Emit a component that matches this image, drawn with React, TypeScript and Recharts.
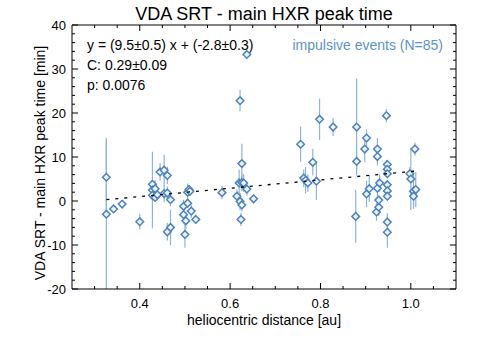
import { ScatterChart, Scatter, XAxis, YAxis, ErrorBar, Customized } from "recharts";

// heliocentric distance [au], delay [min] and its error
const distance = [
  0.326, 0.326, 0.342, 0.361, 0.4, 0.428, 0.428, 0.434, 0.428, 0.434,
  0.439, 0.445, 0.454, 0.461, 0.454, 0.461, 0.468, 0.461, 0.468, 0.497,
  0.506, 0.497, 0.502, 0.514, 0.524, 0.5, 0.506, 0.509, 0.511, 0.582,
  0.615, 0.62, 0.626, 0.63, 0.626, 0.622, 0.626, 0.637, 0.624, 0.652,
  0.637, 0.622, 0.756, 0.763, 0.767, 0.772, 0.791, 0.783, 0.798, 0.828,
  0.88, 0.88, 0.878, 0.898, 0.902, 0.902, 0.908, 0.926, 0.926, 0.926,
  0.931, 0.924, 0.929, 0.929, 0.946, 0.948, 0.948, 0.948, 0.948, 0.948,
  0.948, 0.948, 0.948, 0.998, 1.0, 1.006, 1.006, 1.011, 1.009,
];
const delay = [
  5.4, -3.0, -1.8, -0.7, -4.7, 3.8, 2.5, 2.8, 1.3, 0.8,
  1.4, 6.6, 7.0, 5.8, 1.7, 1.8, 0.3, -7.0, -6.0, -1.2,
  -0.5, -3.1, -4.5, -2.3, -4.2, -7.6, 2.0, 2.6, 2.2, 1.9,
  1.1, 4.1, 4.2, 4.1, 8.5, -0.1, -0.9, 2.7, -4.2, 0.5,
  33.3, 22.8, 12.9, 5.2, 4.7, 4.1, 4.5, 8.8, 18.6, 16.8,
  16.8, 9.0, -3.5, 11.8, 14.3, 1.6, 2.8, 11.8, 10.1, 2.9,
  4.1, -2.5, -1.4, 0.2, 19.4, 8.3, 7.2, 6.2, 3.7, 2.3,
  1.1, -4.8, -7.1, 6.2, 5.0, 2.2, 1.1, 2.6, 11.8,
];
const delayErr = [
  9, 17, 0.8, 0.8, 1.8, 1.5, 8.7, 2, 1, 1,
  1, 2, 3.5, 2, 2, 1.5, 1.5, 2, 4, 1.5,
  1, 2, 2, 1.5, 1, 3, 2, 1, 1, 1.5,
  1.5, 3, 2, 2, 4.5, 2, 1.5, 1.5, 1.5, 1,
  0.5, 2.4, 4, 2, 3, 2, 4.3, 3, 4.7, 2,
  11, 2, 6, 3, 2, 3, 3, 2.5, 2, 2,
  2, 2, 2, 1, 1.5, 1, 1, 1, 1, 1,
  1, 2, 3.5, 1.5, 7, 4, 2, 4, 1.5,
];

// end points of the linear fit drawn in the figure
const fitX = [0.326, 1.011];
const fitY = [0.3, 6.8];

const xMajor = [0.4, 0.6, 0.8, 1.0];
const xMinor = [0.3, 0.35, 0.45, 0.5, 0.55, 0.65, 0.7, 0.75, 0.85, 0.9, 0.95, 1.05];
const yMajor = [-20, -10, 0, 10, 20, 30, 40];
const yMinor = [
  -18, -16, -14, -12, -8, -6, -4, -2, 2, 4, 6, 8, 12, 14, 16, 18,
  22, 24, 26, 28, 32, 34, 36, 38,
];

const points = distance.map((x, i) => ({ x, y: delay[i], err: delayErr[i] }));
const fitLine = fitX.map((x, i) => ({ x, y: fitY[i] }));

const FONT = "'Liberation Sans', Arial, sans-serif";
const BLUE = "#4a82c2";
const W = 478;
const H = 341;

const isMajor = (list: number[], v: number) => list.some((m) => Math.abs(m - v) < 1e-9);

function makeTick(side: "bottom" | "top" | "left" | "right", majors: number[]) {
  return (props: any) => {
    const { x, y, payload } = props;
    const v = payload.value;
    const major = isMajor(majors, v);
    const len = major ? 6 : 3;
    let line;
    if (side === "bottom") line = <line x1={x} y1={y} x2={x} y2={y - len} stroke="#000" />;
    else if (side === "top") line = <line x1={x} y1={y} x2={x} y2={y + len} stroke="#000" />;
    else if (side === "left") line = <line x1={x} y1={y} x2={x + len} y2={y} stroke="#000" />;
    else line = <line x1={x} y1={y} x2={x - len} y2={y} stroke="#000" />;
    let label = null;
    if (major && side === "bottom") {
      label = (
        <text x={x} y={y + 19} textAnchor="middle" fontSize={13} fontFamily={FONT} fill="#000">
          {v.toFixed(1)}
        </text>
      );
    } else if (major && side === "left") {
      label = (
        <text x={x - 6} y={y + 4.5} textAnchor="end" fontSize={13} fontFamily={FONT} fill="#000">
          {String(v)}
        </text>
      );
    }
    return (
      <g>
        {line}
        {label}
      </g>
    );
  };
}

const Diamond = (props: any) => {
  const { cx, cy } = props;
  const r = 3.8;
  return (
    <polygon
      points={`${cx},${cy - r} ${cx + r},${cy} ${cx},${cy + r} ${cx - r},${cy}`}
      fill="#eef4fb"
      stroke={BLUE}
      strokeWidth={1.5}
    />
  );
};

const Texts = () => (
  <g fontFamily={FONT}>
    <text x={264} y={20} textAnchor="middle" fontSize={18} fill="#000">
      VDA SRT - main HXR peak time
    </text>
    <text x={87} y={50} fontSize={14} fill="#000">y = (9.5±0.5) x + (-2.8±0.3)</text>
    <text x={87} y={70} fontSize={14} fill="#000">C: 0.29±0.09</text>
    <text x={87} y={90} fontSize={14} fill="#000">p: 0.0076</text>
    <text x={443} y={50} textAnchor="end" fontSize={14} fill="#5b93cc">
      impulsive events (N=85)
    </text>
    <text x={264} y={325} textAnchor="middle" fontSize={14} fill="#000">
      heliocentric distance [au]
    </text>
    <text
      x={45}
      y={163}
      textAnchor="middle"
      fontSize={14}
      fill="#000"
      transform="rotate(-90 45 163)"
    >
      VDA SRT - main HXR peak time [min]
    </text>
  </g>
);

export default function App() {
  const xTicks = [...xMinor, ...xMajor].sort((a, b) => a - b);
  const yTicks = [...yMinor, ...yMajor].sort((a, b) => a - b);
  return (
    <div style={{ position: "absolute", left: 0, top: 0, width: W, height: H, background: "#fff" }}>
      <ScatterChart width={W} height={H} margin={{ top: 24, right: 21, bottom: 22, left: 32 }}>
        <XAxis
          xAxisId="b"
          dataKey="x"
          type="number"
          domain={[0.25, 1.1]}
          ticks={xTicks}
          interval={0}
          height={30}
          tickSize={0}
          tickMargin={0}
          tickLine={false}
          axisLine={{ stroke: "#000" }}
          tick={makeTick("bottom", xMajor)}
          allowDataOverflow
        />
        <XAxis
          xAxisId="t"
          orientation="top"
          dataKey="x"
          type="number"
          domain={[0.25, 1.1]}
          ticks={xTicks}
          interval={0}
          height={1}
          tickSize={0}
          tickMargin={0}
          tickLine={false}
          axisLine={{ stroke: "#000" }}
          tick={makeTick("top", xMajor)}
          allowDataOverflow
        />
        <YAxis
          yAxisId="l"
          dataKey="y"
          type="number"
          domain={[-20, 40]}
          ticks={yTicks}
          interval={0}
          width={40}
          tickSize={0}
          tickMargin={0}
          tickLine={false}
          axisLine={{ stroke: "#000" }}
          tick={makeTick("left", yMajor)}
          allowDataOverflow
        />
        <YAxis
          yAxisId="r"
          orientation="right"
          dataKey="y"
          type="number"
          domain={[-20, 40]}
          ticks={yTicks}
          interval={0}
          width={1}
          tickSize={0}
          tickMargin={0}
          tickLine={false}
          axisLine={{ stroke: "#000" }}
          tick={makeTick("right", yMajor)}
          allowDataOverflow
        />
        <Scatter
          data={points}
          xAxisId="b"
          yAxisId="l"
          shape={Diamond}
          isAnimationActive={false}
        >
          <ErrorBar dataKey="err" direction="y" width={0} stroke="#8db4dc" strokeWidth={1.2} />
        </Scatter>
        <Scatter
          data={fitLine}
          xAxisId="t"
          yAxisId="r"
          line={{ stroke: "#000", strokeWidth: 1.3, strokeDasharray: "3 6" }}
          lineType="joint"
          shape={() => <g />}
          isAnimationActive={false}
        />
        <Customized component={Texts} />
      </ScatterChart>
    </div>
  );
}
